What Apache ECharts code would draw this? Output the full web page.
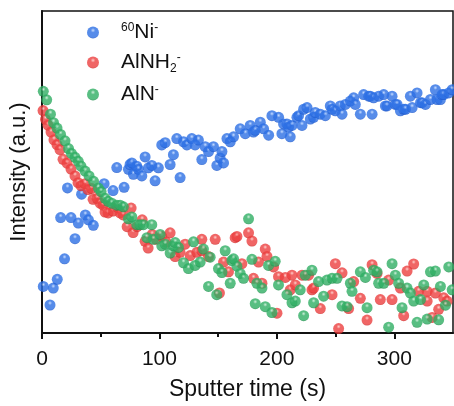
<!DOCTYPE html>
<html>
<head>
<meta charset="utf-8">
<script src="https://cdn.jsdelivr.net/npm/echarts@6/dist/echarts.min.js"></script>
<style>
  html, body { margin: 0; padding: 0; background: #fff; }
  #chart { width: 454px; height: 406px; }
</style>
</head>
<body>
<div id="chart"></div>
<script>
// Sputter depth profile: secondary-ion intensity vs. sputter time
const xTicks = [0, 100, 200, 300];
const xMinorTicks = [50, 150, 250];

// 60Ni- signal
const niTime = [1.1, 6.8, 9.6, 13.0, 15.9, 19.2, 21.7, 24.7, 28.1, 30.9, 33.7, 36.9, 39.5, 43.7, 52.9, 60.5, 63.7, 69.9, 73.6, 75.0,
  76.5, 77.8, 80.7, 82.1, 85.0, 87.8, 90.6, 93.5, 96.3, 99.1, 102.0, 104.9, 109.1, 111.9, 114.8, 117.6, 120.5, 123.4, 127.6, 130.4,
  133.2, 136.1, 139.0, 141.8, 146.0, 148.9, 151.7, 153.2, 154.6, 157.5, 160.3, 163.1, 168.8, 173.1, 177.3, 180.1, 181.6, 185.9, 188.7, 193.0,
  195.8, 201.5, 204.3, 205.7, 208.6, 210.0, 211.4, 212.9, 217.1, 218.5, 221.4, 222.8, 225.7, 228.5, 231.3, 232.7, 237.0, 241.3, 245.5, 247.0,
  249.8, 254.0, 255.5, 258.3, 262.6, 265.4, 266.8, 271.1, 273.9, 278.2, 279.6, 281.1, 282.4, 286.7, 291.0, 292.4, 293.8, 298.1, 300.9, 302.4,
  305.2, 308.0, 309.5, 313.7, 315.2, 319.4, 322.3, 323.7, 326.5, 330.8, 335.0, 336.5, 339.3, 340.7, 342.1, 346.4, 349.3];
const niIntensity = [47.7, 28.7, 46, 55, 118.3, 76, 148.7, 118.3, 96.7, 112.7, 142.3, 121, 116, 110.3, 153, 146, 169.5, 149.3, 167.7, 172.7,
  174.3, 162.7, 171, 167.7, 161, 180.5, 169.3, 171.7, 156, 169.3, 192.7, 195, 172.7, 182.7, 199.3, 159.3, 196, 192.7, 199.3, 192.7,
  197.7, 177.7, 191, 186, 191, 171.7, 179.3, 186, 174.3, 199.3, 196, 201, 209.3, 204.3, 212.7, 206, 207.7, 216, 209.3, 202.7,
  222.7, 221, 204.3, 214.3, 214.3, 211, 201, 212.7, 221, 222.7, 212.7, 229.3, 231, 219.3, 221, 226, 224.3, 222.7, 232.7, 229.3,
  227.7, 232.7, 224.3, 234.3, 237.7, 241, 234.3, 224.3, 244.3, 242.7, 242.7, 224.3, 241, 242.7, 244.3, 232.7, 232.7, 242.7, 234.3, 234.3,
  227.7, 229.3, 229.3, 242.7, 231, 246, 236, 236, 234.3, 239.3, 249.3, 239.3, 239.3, 244.3, 244.3, 246, 249.3];

// AlNH2- signal
const alnh2Time = [0.9, 3.0, 5.1, 7.7, 10.2, 12.8, 15.3, 17.9, 21.3, 24.7, 28.1, 30.7, 33.2, 36.7, 39.2, 42.2, 43.5, 46.9, 49.4, 52.0,
  53.7, 56.3, 60.5, 63.9, 66.5, 69.1, 72.5, 75.9, 77.6, 81.0, 85.3, 87.8, 90.4, 93.8, 97.2, 102.0, 105.7, 109.1, 113.4, 117.6,
  121.9, 126.2, 131.9, 136.1, 136.1, 141.8, 147.5, 151.1, 154.6, 158.8, 164.5, 166.0, 170.2, 175.9, 178.8, 180.1, 184.4, 187.3, 190.1, 191.6,
  197.2, 200.1, 201.4, 207.2, 211.4, 212.9, 215.7, 221.4, 227.0, 229.9, 231.3, 237.0, 247.0, 249.8, 252.6, 255.5, 261.1, 265.4, 271.1, 276.8,
  281.1, 285.3, 288.1, 295.2, 298.1, 305.2, 308.0, 310.9, 316.5, 320.8, 328.0, 328.0, 332.2, 335.0, 337.8, 342.1, 345.0];
const alnh2Intensity = [228, 219, 213, 206, 198, 193, 188, 178, 174, 168, 161, 154, 151, 153, 147, 148, 137, 138, 133, 131,
  124, 123, 125, 129, 123, 121, 109, 128, 103, 109, 116, 94, 87, 101, 96, 99, 93, 102.7, 78.3, 82.7,
  91, 79.3, 82.7, 96, 84.3, 78.3, 96, 41, 72.7, 62.7, 97.7, 99, 71, 102.7, 94.3, 56, 72.7, 51, 86, 78.5,
  67.7, 20.3, 57.7, 57, 44.3, 59.3, 49.3, 59.3, 59.3, 44.3, 46, 25, 39.3, 71, 4.5, 61.7, 25, 52.7, 35.5, 13.3,
  70, 61, 34.3, 54.3, 34.3, 46, 17.7, 63.5, 70.7, 42.7, 42.7, 32.7, 16, 41, 24.3, 36, 32.7];

// AlN- signal
const alnTime = [1.1, 4.0, 7.2, 9.8, 12.8, 15.8, 19.6, 22.6, 25.1, 28.1, 30.9, 33.2, 36.7, 40.1, 43.9, 48.0, 50.3, 53.7, 56.3, 59.4,
  63.7, 66.5, 69.3, 73.6, 76.5, 80.7, 83.5, 86.4, 89.3, 93.5, 94.9, 100.6, 102.0, 104.9, 109.1, 111.9, 113.4, 116.2, 120.5, 124.7,
  129.0, 130.4, 134.7, 137.5, 141.8, 143.2, 148.8, 150.3, 153.2, 156.0, 160.3, 161.7, 163.1, 166.0, 168.8, 171.6, 175.9, 178.8, 181.6, 183.0,
  187.3, 190.1, 192.9, 195.8, 198.6, 201.4, 208.6, 212.9, 215.7, 219.9, 222.8, 224.2, 229.9, 231.3, 235.5, 239.8, 242.7, 247.0, 251.2, 255.5,
  259.8, 262.6, 264.0, 271.1, 275.4, 276.8, 282.4, 285.3, 286.7, 291.0, 295.2, 298.1, 300.9, 303.7, 306.6, 310.9, 313.7, 316.5, 319.4, 322.3,
  325.1, 328.0, 330.8, 335.0, 337.8, 339.3, 343.6, 346.4, 349.3];
const alnIntensity = [247.7, 239, 224.3, 215.5, 210, 203.5, 197, 189, 184, 180, 176, 171, 166, 161, 155.5, 148.5, 145, 138, 135, 133,
  131, 131, 129.3, 117, 119, 111, 111, 111, 97.7, 111, 96, 101, 89.3, 91, 82, 89.3, 92.7, 87.7, 72, 66,
  93.5, 69.3, 72.7, 86, 47.7, 77.7, 39.3, 66, 62, 84.3, 51, 74.3, 76, 68.5, 61, 56, 117, 75.5, 30, 51,
  46, 27, 69.3, 21, 73.5, 49.3, 39.3, 31, 32.7, 44.3, 17.7, 59.3, 64.3, 31, 52.7, 37.7, 54.3, 56, 56, 27.7,
  27, 51, 42.7, 62.7, 57, 26, 64.3, 62.7, 51, 51, 6, 71, 59.3, 51, 26, 46, 41, 32.7, 11, 34.3,
  49.3, 14.3, 62.7, 63.5, 13.5, 47.7, 28.5, 67.7, 44.3];

const pairs = (xs, ys) => xs.map((x, i) => [x, ys[i]]);

// glossy bead fill: small bright spot near the top, saturated body
function bead(light, base, dark) {
  return new echarts.graphic.RadialGradient(0.5, 0.32, 0.68, [
    { offset: 0, color: light },
    { offset: 0.28, color: base },
    { offset: 0.8, color: base },
    { offset: 1, color: dark }
  ]);
}
const niFill = bead('#b9d4ff', '#2c6fe4', '#1d56c8');
const alnh2Fill = bead('#ffc4bf', '#ec3f3f', '#d02a2a');
const alnFill = bead('#c2ecd2', '#2fae63', '#208d4c');

const sans = '"Liberation Sans", Arial, sans-serif';

const legendLabels = {
  'Ni': '{sup|60}{main|Ni}{sup|-}',
  'AlNH2': '{main|AlNH}{sub|2}{sup|-}',
  'AlN': '{main|AlN}{sup|-}'
};

const chart = echarts.init(document.getElementById('chart'), null, { renderer: 'canvas' });
chart.setOption({
  animation: false,
  backgroundColor: '#ffffff',
  grid: {
    left: 42, right: 1, top: 11, bottom: 65,
    show: true, borderColor: '#111', borderWidth: 1.5, backgroundColor: 'transparent'
  },
  legend: {
    orient: 'vertical',
    left: 82, top: 15,
    itemWidth: 12, itemHeight: 12, itemGap: 7,
    icon: 'circle',
    formatter: name => legendLabels[name],
    textStyle: {
      padding: [0, 0, 0, 17],
      rich: {
        main: { fontFamily: sans, fontSize: 21, color: '#111', lineHeight: 25, verticalAlign: 'middle' },
        sup: { fontFamily: sans, fontSize: 12, color: '#111', lineHeight: 25, verticalAlign: 'top', padding: [2, 0, 0, 0] },
        sub: { fontFamily: sans, fontSize: 12, color: '#111', lineHeight: 25, verticalAlign: 'bottom' }
      }
    },
    data: [
      { name: 'Ni', itemStyle: { color: niFill } },
      { name: 'AlNH2', itemStyle: { color: alnh2Fill } },
      { name: 'AlN', itemStyle: { color: alnFill } }
    ]
  },
  xAxis: [
    {
      type: 'value', min: 0, max: 350,
      name: 'Sputter time (s)', nameLocation: 'middle', nameGap: 45,
      nameTextStyle: { fontFamily: sans, fontSize: 23, color: '#111' },
      axisLine: { show: true, onZero: false, lineStyle: { color: '#111', width: 2 } },
      axisTick: { show: true, inside: false, length: 6, customValues: xTicks, lineStyle: { color: '#111', width: 2 } },
      axisLabel: { customValues: xTicks, margin: 16, fontFamily: sans, fontSize: 21, color: '#111' },
      splitLine: { show: false }
    },
    {
      type: 'value', min: 0, max: 350, position: 'bottom',
      axisLine: { show: false },
      axisTick: { show: true, inside: false, length: 4, customValues: xMinorTicks, lineStyle: { color: '#111', width: 2 } },
      axisLabel: { show: false },
      splitLine: { show: false }
    }
  ],
  yAxis: {
    type: 'value', min: 0, max: 330,
    name: 'Intensity (a.u.)', nameLocation: 'middle', nameGap: 12, nameRotate: 90,
    nameTextStyle: { fontFamily: sans, fontSize: 22, color: '#111' },
    axisLine: { show: true, onZero: false, lineStyle: { color: '#111', width: 2 } },
    axisTick: { show: false },
    axisLabel: { show: false },
    splitLine: { show: false }
  },
  series: [
    {
      name: 'Ni', type: 'scatter', symbol: 'circle', symbolSize: 11,
      itemStyle: { color: niFill }, data: pairs(niTime, niIntensity)
    },
    {
      name: 'AlNH2', type: 'scatter', symbol: 'circle', symbolSize: 11,
      itemStyle: { color: alnh2Fill }, data: pairs(alnh2Time, alnh2Intensity)
    },
    {
      name: 'AlN', type: 'scatter', symbol: 'circle', symbolSize: 11,
      itemStyle: { color: alnFill }, data: pairs(alnTime, alnIntensity)
    }
  ]
});
</script>
</body>
</html>
